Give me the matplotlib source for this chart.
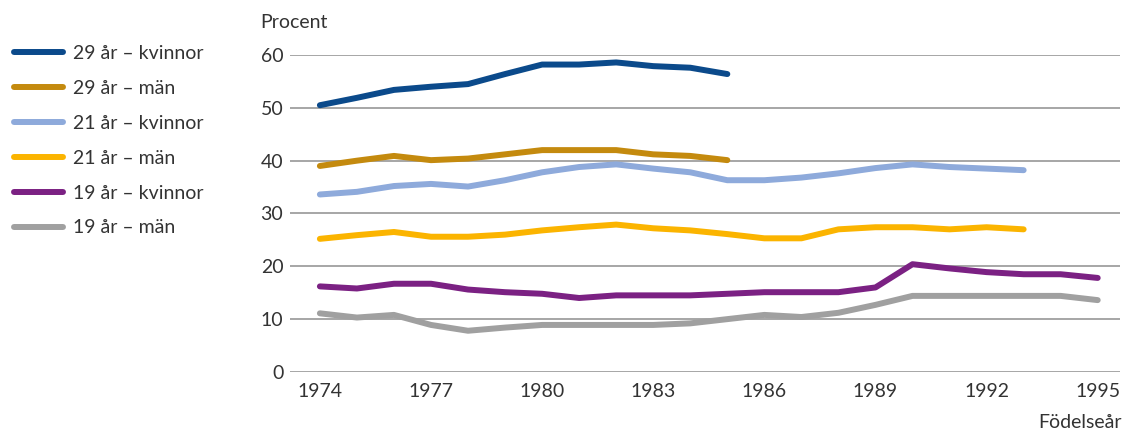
import matplotlib.pyplot as plt

# Data
years = list(range(1974, 1996))

k29 = [50.5, 51.9, 53.4, 54.0, 54.5, 56.4, 58.2, 58.2, 58.6, 57.9, 57.6, 56.4]
m29 = [39.0, 40.0, 40.9, 40.1, 40.4, 41.2, 42.0, 42.0, 42.0, 41.2, 40.9, 40.1]
k21 = [33.6, 34.1, 35.2, 35.6, 35.1, 36.3, 37.8, 38.8, 39.3, 38.5, 37.8, 36.3,
       36.3, 36.8, 37.6, 38.6, 39.3, 38.8, 38.5, 38.2]
m21 = [25.2, 25.9, 26.5, 25.6, 25.6, 26.0, 26.8, 27.4, 27.9, 27.2, 26.8, 26.1,
       25.3, 25.3, 27.0, 27.4, 27.4, 27.0, 27.4, 27.0]
k19 = [16.2, 15.8, 16.7, 16.7, 15.6, 15.1, 14.8, 14.0, 14.5, 14.5, 14.5, 14.8,
       15.1, 15.1, 15.1, 16.0, 20.4, 19.6, 18.9, 18.5, 18.5, 17.8]
m19 = [11.1, 10.3, 10.8, 8.9, 7.8, 8.4, 8.9, 8.9, 8.9, 8.9, 9.2, 10.0,
       10.8, 10.4, 11.2, 12.7, 14.4, 14.4, 14.4, 14.4, 14.4, 13.6]

series = [
    ("29 år – kvinnor", k29, "#0b4a8b"),
    ("29 år – män", m29, "#c48a0e"),
    ("21 år – kvinnor", k21, "#8eaadb"),
    ("21 år – män", m21, "#fbb400"),
    ("19 år – kvinnor", k19, "#7b2183"),
    ("19 år – män", m19, "#a0a0a0"),
]

xticks = [1974, 1977, 1980, 1983, 1986, 1989, 1992, 1995]

plt.rcParams['font.family'] = ['Lato', 'DejaVu Sans']
txt = '#333333'
fs = 14

fig = plt.figure(figsize=(11.25, 4.3), dpi=100)
ax = fig.add_axes([0.258, 0.135, 0.7375, 0.737])

for label, vals, color in series:
    ax.plot(years[:len(vals)], vals, color=color, lw=4.3, label=label,
            solid_capstyle='round', solid_joinstyle='round', clip_on=False, zorder=3)

ax.set_xlim(1973.2, 1995.6)
ax.set_ylim(0, 60)
ax.set_yticks(range(0, 61, 10))
ax.set_xticks(xticks)
ax.grid(axis='y', color='#a6a6a6', lw=1.4)
ax.set_axisbelow(True)
for s in ax.spines.values():
    s.set_visible(False)
ax.tick_params(length=0, labelsize=fs, labelcolor=txt)
ax.tick_params(axis='y', pad=5)
ax.tick_params(axis='x', pad=8)

fig.text(260 / 1125, 1 - 22 / 430, "Procent", fontsize=fs, color=txt, va='center')
fig.text(1122 / 1125, 1 - 422 / 430, "Födelseår", fontsize=fs, color=txt,
         va='center', ha='right')

fig.legend(loc='upper left', bbox_to_anchor=(14 / 1125, 1 - 45 / 430), frameon=False,
           fontsize=fs, handlelength=2.5, handletextpad=0.55, labelspacing=0.92,
           borderpad=0, borderaxespad=0, labelcolor=txt)

fig.savefig("out.png", dpi=100)
